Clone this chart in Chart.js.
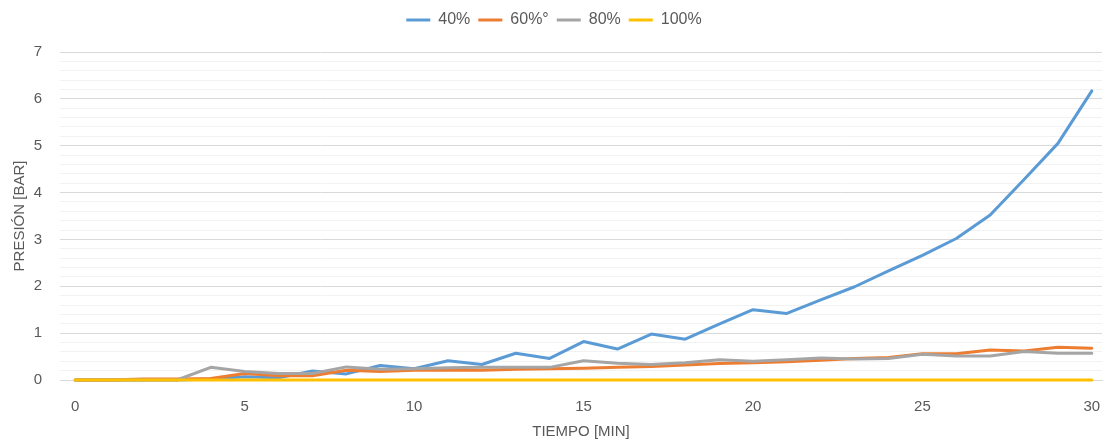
<!DOCTYPE html>
<html>
<head>
<meta charset="utf-8">
<script src="https://cdn.jsdelivr.net/npm/chart.js@4"></script>
<style>
  html, body { margin: 0; padding: 0; background: #fff; }
  #wrap { width: 1103px; height: 441px; position: relative; }
</style>
</head>
<body>
<div id="wrap"><canvas id="presionChart"></canvas></div>
<script>
// Tiempo en minutos
const minutos = [0, 1, 2, 3, 4, 5, 6, 7, 8, 9, 10, 11, 12, 13, 14, 15,
  16, 17, 18, 19, 20, 21, 22, 23, 24, 25, 26, 27, 28, 29, 30];

// Presion [bar] por serie
const p40 = [0, 0, 0, 0, 0.02, 0.07, 0.05, 0.19, 0.13, 0.31, 0.24, 0.41, 0.33, 0.57, 0.46, 0.82,
  0.66, 0.98, 0.87, 1.19, 1.50, 1.42, 1.71, 1.99, 2.33, 2.66, 3.02, 3.52, 4.28, 5.05, 6.17];
const p60 = [0, 0, 0.02, 0.02, 0.03, 0.14, 0.09, 0.09, 0.21, 0.18, 0.21, 0.21, 0.21, 0.23, 0.24, 0.25,
  0.27, 0.29, 0.32, 0.35, 0.37, 0.39, 0.42, 0.46, 0.48, 0.56, 0.56, 0.64, 0.62, 0.70, 0.68];
const p80 = [0, 0, 0, 0, 0.27, 0.18, 0.14, 0.14, 0.28, 0.23, 0.24, 0.26, 0.27, 0.27, 0.27, 0.41,
  0.36, 0.33, 0.37, 0.43, 0.40, 0.43, 0.47, 0.45, 0.46, 0.55, 0.51, 0.51, 0.61, 0.57, 0.57];
const p100 = [0, 0, 0, 0, 0, 0, 0, 0, 0, 0, 0, 0, 0, 0, 0, 0,
  0, 0, 0, 0, 0, 0, 0, 0, 0, 0, 0, 0, 0, 0, 0];

const etiquetas = ['40%', '60%°', '80%', '100%'];
const xTicks = [0, 5, 10, 15, 20, 25, 30];

// Build {x, y} points from the arrays
function puntos(serie) {
  return minutos.map((m, i) => ({ x: m, y: serie[i] }));
}

const textColor = '#595959';
const fontFamily = '"Liberation Sans", Arial, sans-serif';

// Extra room under the legend so the plot starts lower
const legendSpacer = {
  id: 'legendSpacer',
  beforeInit(chart) {
    const fit = chart.legend.fit;
    chart.legend.fit = function () {
      fit.bind(chart.legend)();
      this.height = 48;
    };
  }
};

const ctx = document.getElementById('presionChart').getContext('2d');
const chart = new Chart(ctx, {
  type: 'line',
  plugins: [legendSpacer],
  data: {
    datasets: [
      { label: etiquetas[0], data: puntos(p40), borderColor: '#5B9BD5', backgroundColor: '#5B9BD5', order: 3 },
      { label: etiquetas[1], data: puntos(p60), borderColor: '#ED7D31', backgroundColor: '#ED7D31', order: 2 },
      { label: etiquetas[2], data: puntos(p80), borderColor: '#A5A5A5', backgroundColor: '#A5A5A5', order: 1 },
      { label: etiquetas[3], data: puntos(p100), borderColor: '#FFC000', backgroundColor: '#FFC000', order: 0 }
    ]
  },
  options: {
    responsive: true,
    maintainAspectRatio: false,
    animation: false,
    datasets: { line: { clip: 6 } },
    elements: {
      line: { borderWidth: 3, tension: 0, fill: false, borderCapStyle: 'round', borderJoinStyle: 'round' },
      point: { radius: 0 }
    },
    layout: { padding: { top: 4, right: 1, left: 6, bottom: 0 } },
    plugins: {
      tooltip: { enabled: false },
      legend: {
        position: 'top',
        labels: {
          color: textColor,
          font: { family: fontFamily, size: 16 },
          boxWidth: 24,
          boxHeight: 3,
          padding: 8,
          sort: (a, b) => a.datasetIndex - b.datasetIndex,
          generateLabels: (c) => {
            const items = Chart.defaults.plugins.legend.labels.generateLabels(c);
            items.forEach(it => { it.lineWidth = 0; });
            return items;
          }
        }
      }
    },
    scales: {
      x: {
        type: 'linear',
        min: -0.45,
        max: 30.3,
        afterBuildTicks: (axis) => { axis.ticks = xTicks.map(v => ({ value: v })); },
        afterFit: (s) => { s.paddingLeft = 0; s.paddingRight = 0; s.height = 61; },
        grid: { display: false },
        border: { display: true, color: '#D9D9D9', width: 1 },
        ticks: { color: textColor, font: { family: fontFamily, size: 15 }, padding: 10, maxRotation: 0 },
        title: { display: true, text: 'TIEMPO [MIN]', color: textColor, font: { family: fontFamily, size: 15 }, padding: { top: 0, bottom: 0 } }
      },
      y: {
        min: 0,
        max: 7,
        afterFit: (s) => { s.width = 54; },
        grid: {
          color: (c) => {
            const v = c.tick ? c.tick.value : 0;
            return Math.abs(v - Math.round(v)) < 1e-6 ? '#D9D9D9' : '#F2F2F2';
          },
          lineWidth: 1,
          drawTicks: false
        },
        border: { display: false },
        ticks: {
          stepSize: 0.2,
          autoSkip: false,
          color: textColor,
          font: { family: fontFamily, size: 15 },
          padding: 18,
          callback: (v) => Math.abs(v - Math.round(v)) < 1e-6 ? String(Math.round(v)) : ''
        },
        title: { display: true, text: 'PRESIÓN [BAR]', color: textColor, font: { family: fontFamily, size: 15 }, padding: { top: 5, bottom: 0 } }
      }
    }
  }
});
</script>
</body>
</html>
